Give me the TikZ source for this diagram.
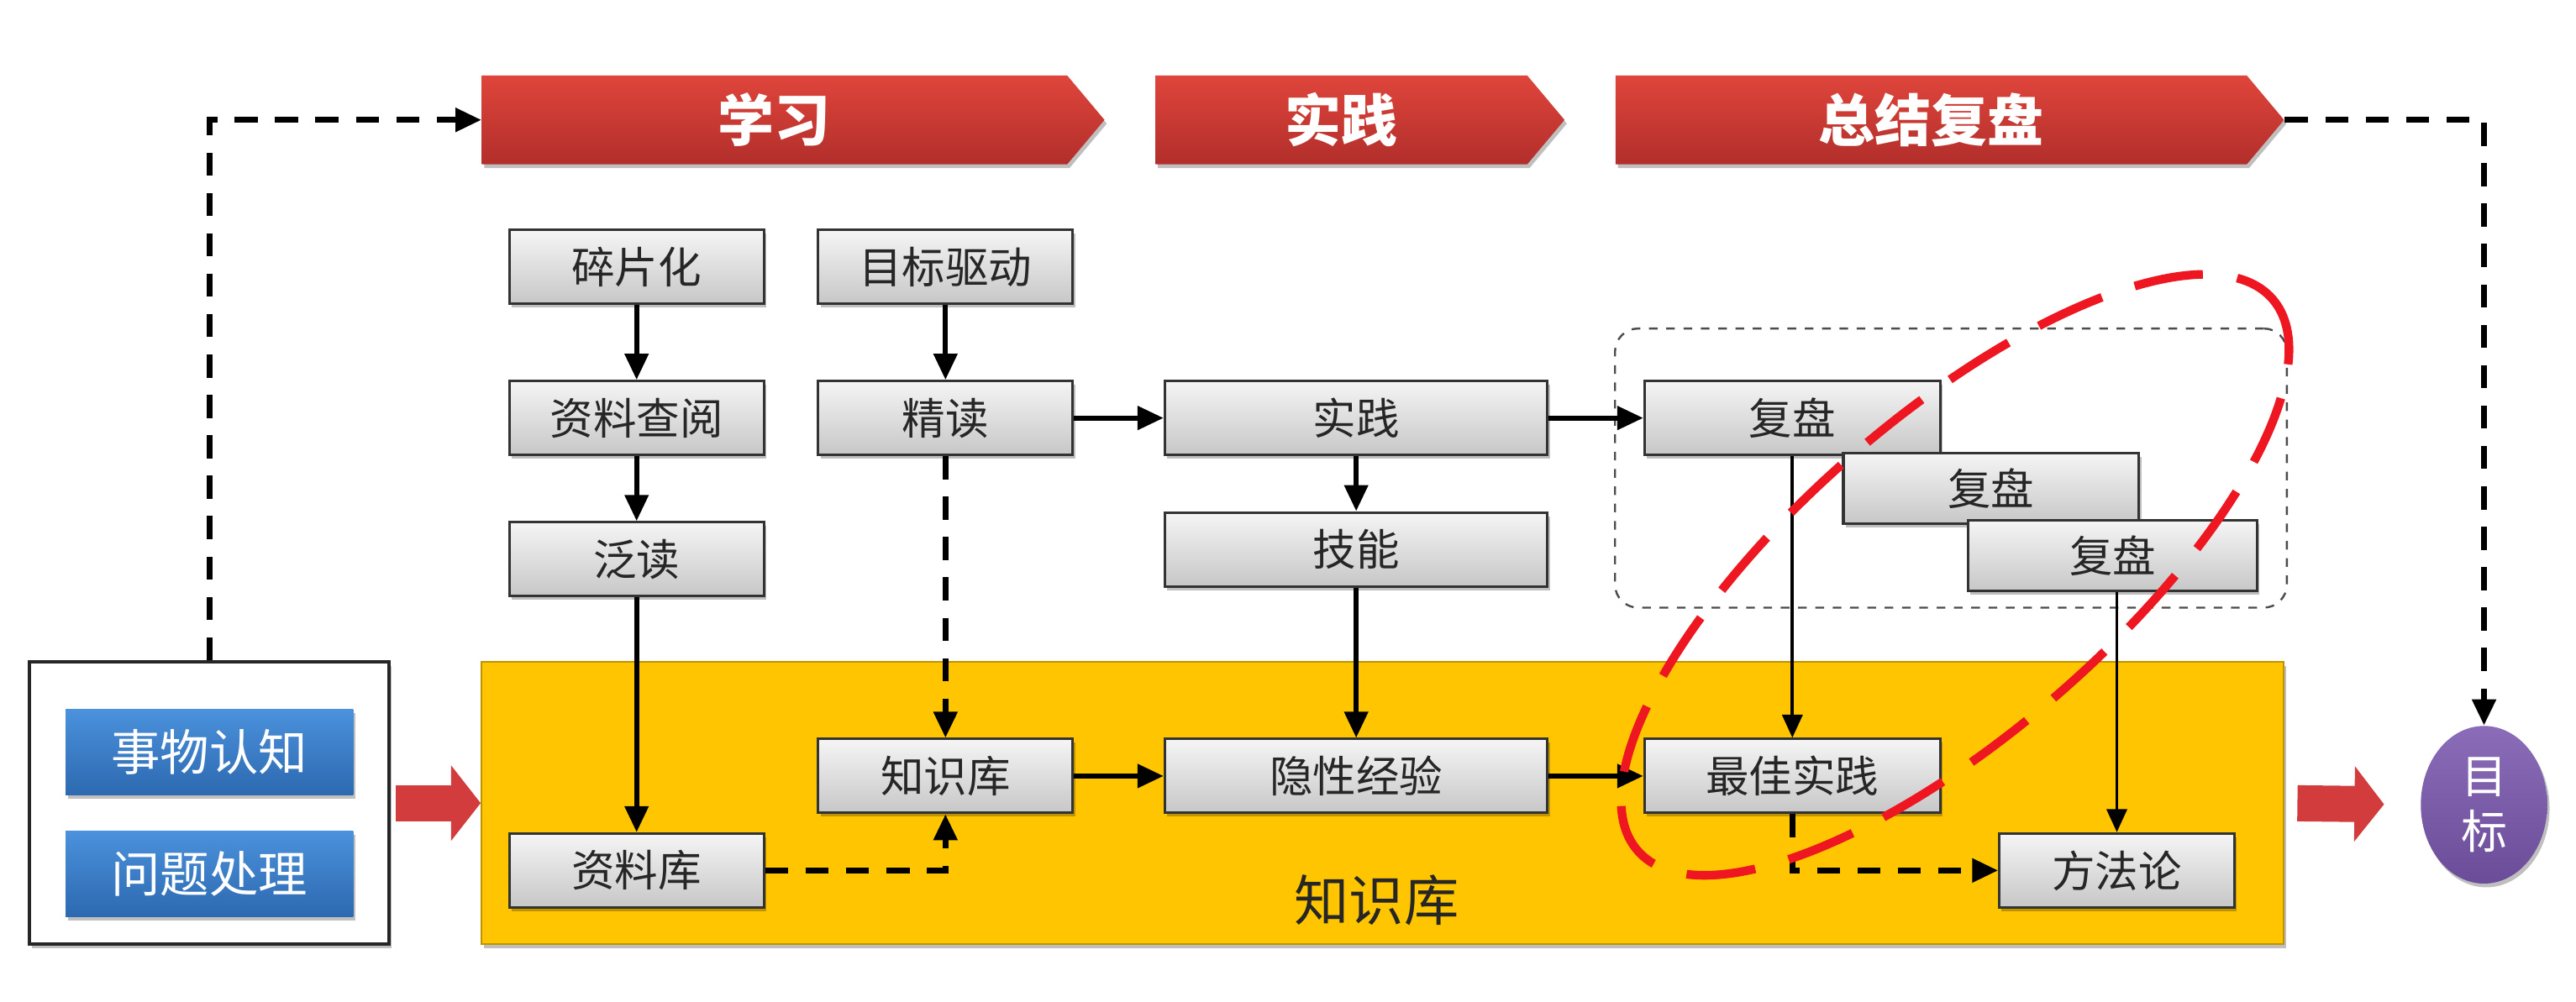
\documentclass[tikz,border=0pt]{standalone}
\usepackage{fontspec}
\setmainfont{Noto Sans CJK SC}
\usetikzlibrary{arrows.meta,shapes.symbols,shapes.geometric,shadows}

\definecolor{chevtop}{HTML}{DF453B}
\definecolor{chevbot}{HTML}{B22E2B}
\definecolor{kbyellow}{HTML}{FFC600}
\definecolor{bluetop}{HTML}{4B91DC}
\definecolor{bluebot}{HTML}{2C69B0}
\definecolor{goaltop}{HTML}{8A6CB8}
\definecolor{goalbot}{HTML}{6A4C98}
\definecolor{fatred}{HTML}{D23C3C}
\definecolor{loopred}{HTML}{EE1620}

\begin{document}
\begin{tikzpicture}[x=0.02cm,y=-0.02cm,
  softshadow/.style={drop shadow={shadow xshift=0.8pt,shadow yshift=-1.3pt,fill=black,opacity=0.25}},
  gbox/.style={draw=black!80,line width=0.9pt,top color=white!96!black,bottom color=black!22,
    text=black!85,font=\fontsize{15}{15}\selectfont,inner sep=0pt,
    minimum width=3.1cm,minimum height=0.9cm,softshadow},
  bluebox/.style={top color=bluetop,bottom color=bluebot,text=white,
    font=\fontsize{17}{17}\selectfont,inner sep=0pt,minimum width=3.5cm,minimum height=1.04cm,softshadow},
  chev/.style={shape=signal,signal to=east,signal pointer angle=100,top color=chevtop,bottom color=chevbot,
    text=white,font=\fontsize{19.5}{19.5}\selectfont\bfseries,inner sep=0pt,minimum height=1.08cm,softshadow},
  conn/.style={line width=1.7pt,-{Triangle[length=9pt,width=8pt]}},
  thinconn/.style={line width=1.1pt,-{Triangle[length=8pt,width=7pt]}},
  dconn/.style={line width=1.9pt,dash pattern=on 8pt off 6pt,-{Triangle[length=9pt,width=8pt]}},
  fatarrow/.style={fatred,line width=0.44cm,-{Triangle[length=0.36cm,width=0.9cm]}},
  redloop/.style={loopred,line width=3pt,dash pattern=on 24pt off 12pt},
]
\fill[white] (0,0) rectangle (1568,610);
\useasboundingbox (0,0) rectangle (1568,610);

% knowledge base band and its caption
\node[draw=kbyellow!75!black,line width=0.6pt,fill=kbyellow,minimum width=21.94cm,minimum height=3.44cm,softshadow] (kb) at (841.5,489) {};
\node[text=black!85,font=\fontsize{19}{19}\selectfont] (kblabel) at (838,548) {知识库};

% sources on the left
\node[draw=black!85,line width=1.1pt,fill=white,minimum width=4.38cm,minimum height=3.44cm,softshadow] (src) at (127.5,489) {};
\node[bluebox] (cog) at (127.5,458) {事物认知};
\node[bluebox] (prob) at (127.5,532) {问题处理};

% phase banners
\node[chev,minimum width=7.58cm] (learn) at (471.5,73) {学习};
\node[chev,minimum width=4.98cm] (act) at (816.5,73) {实践};
\node[chev,minimum width=8.14cm] (summ) at (1175.5,73) {总结复盘};

% goal
\node[ellipse,top color=goaltop,bottom color=goalbot,text=white,inner sep=0pt,
  minimum width=1.54cm,minimum height=1.92cm,align=center,
  font=\fontsize{16}{19}\selectfont,softshadow] (goal) at (1512,490) {目\\标};

% review group frame
\node[draw=black!70,line width=0.7pt,dashed,rounded corners=8pt,minimum width=8.18cm,minimum height=3.4cm] (grp) at (1187.5,285) {};

% learning column
\node[gbox] (frag) at (387.5,162.5) {碎片化};
\node[gbox] (lookup) at (387.5,254.5) {资料查阅};
\node[gbox] (skim) at (387.5,340.5) {泛读};
\node[gbox] (matlib) at (387.5,530) {资料库};
\node[gbox] (goaldrv) at (575.5,162.5) {目标驱动};
\node[gbox] (intens) at (575.5,254.5) {精读};
\node[gbox] (kbox) at (575.5,472.5) {知识库};

% practice column
\node[gbox,minimum width=4.66cm] (prac) at (825.5,254.5) {实践};
\node[gbox,minimum width=4.66cm] (skill) at (825.5,334.5) {技能};
\node[gbox,minimum width=4.66cm] (tacit) at (825.5,472.5) {隐性经验};

% review column
\node[gbox,minimum width=3.6cm] (rev1) at (1091,254.5) {复盘};
\node[gbox,minimum width=3.6cm,minimum height=0.86cm] (rev2) at (1212,297.5) {复盘};
\node[gbox,minimum width=3.52cm,minimum height=0.86cm] (rev3) at (1286,338.5) {复盘};
\node[gbox,minimum width=3.6cm] (best) at (1091,472.5) {最佳实践};
\node[gbox,minimum width=2.86cm] (method) at (1288.5,530) {方法论};

% connectors
\draw[dconn] (src.north) |- (learn.west);
\draw[dconn] (summ.east) -| (goal.north);
\draw[fatarrow,shorten <=0.06cm] (src.east) -- (kb.west);
\draw[fatarrow,shorten <=0.16cm,shorten >=0.44cm] (kb.east) -- (goal.west);

\draw[conn] (frag) -- (lookup);
\draw[conn] (lookup) -- (skim);
\draw[conn] (skim) -- (matlib);
\draw[conn] (goaldrv) -- (intens);
\draw[dconn] (intens) -- (kbox);
\draw[dconn] (matlib.east) -| (kbox.south);
\draw[conn] (intens) -- (prac);
\draw[conn] (prac) -- (skill);
\draw[conn] (skill) -- (tacit);
\draw[conn] (kbox) -- (tacit);
\draw[conn] (tacit) -- (best);
\draw[conn] (prac) -- (rev1);
\draw[thinconn] (rev1) -- (best);
\draw[thinconn] (rev3.south -| method.north) -- (method.north);
\draw[dconn] (best.south) |- (method.west);

% highlight ring
\coordinate (loopc) at (1190,350);
\draw[redloop,rotate around={41:(loopc)}] (loopc) ellipse [x radius=256,y radius=96];
\end{tikzpicture}
\end{document}
